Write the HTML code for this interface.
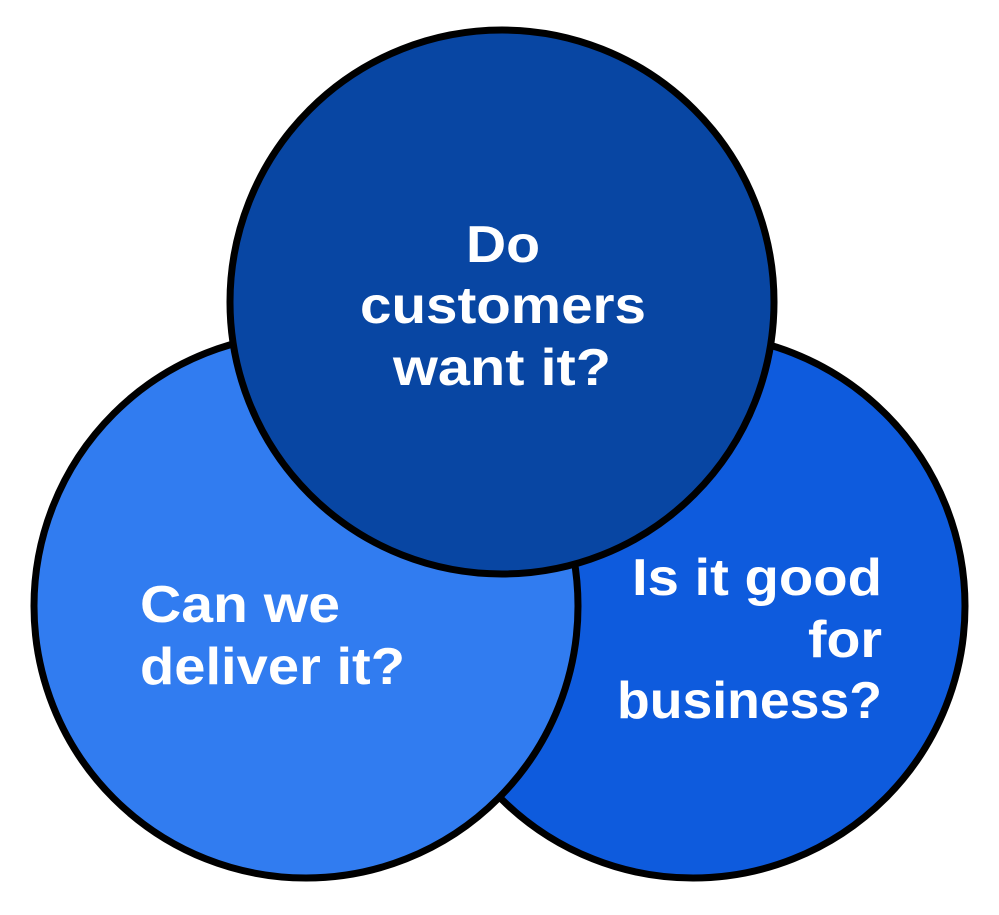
<!DOCTYPE html>
<html><head><style>html,body{margin:0;padding:0;background:#fff;}</style></head>
<body>
<svg width="999" height="910" viewBox="0 0 999 910" xmlns="http://www.w3.org/2000/svg">
<g stroke="#000" stroke-width="7">
<circle cx="693" cy="606" r="272" fill="#0E5BDD"/>
<circle cx="306" cy="606" r="272" fill="#317CF0"/>
<circle cx="502" cy="302" r="272" fill="#0846A3"/>
</g>
<g font-family="Liberation Sans, sans-serif" font-weight="bold" font-size="52" fill="#fff" lengthAdjust="spacingAndGlyphs">
<text x="466" y="262" textLength="74" lengthAdjust="spacingAndGlyphs">Do</text>
<text x="360" y="323" textLength="286" lengthAdjust="spacingAndGlyphs">customers</text>
<text x="393" y="385" textLength="218" lengthAdjust="spacingAndGlyphs">want it?</text>
<text x="140" y="622" textLength="200" lengthAdjust="spacingAndGlyphs">Can we</text>
<text x="140" y="684" textLength="265" lengthAdjust="spacingAndGlyphs">deliver it?</text>
<text x="632" y="595" textLength="250" lengthAdjust="spacingAndGlyphs">Is it good</text>
<text x="808" y="657" textLength="74" lengthAdjust="spacingAndGlyphs">for</text>
<text x="617" y="718" textLength="265" lengthAdjust="spacingAndGlyphs">business?</text>
</g>
</svg>
</body></html>
